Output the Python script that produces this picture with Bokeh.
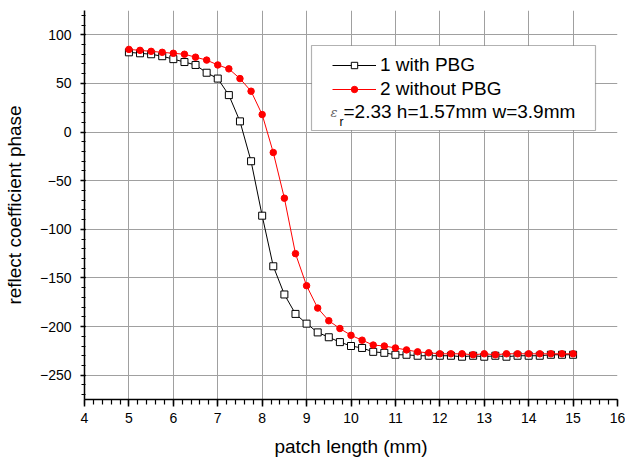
from bokeh.plotting import figure
from bokeh.models import (SingleIntervalTicker, Range1d, Legend, LegendItem,
                          BoxAnnotation, Label)
from bokeh.embed import file_html
from bokeh.resources import INLINE

# ---- data ----
patch_length = [5 + 0.25 * i for i in range(41)]
with_pbg = [82, 81, 80, 78, 75, 72, 69, 61, 55, 38, 11, -30, -86,
            -138, -167, -187, -197,
            -206, -211, -216, -220,
            -222, -226, -227, -229,
            -229, -230, -230, -230,
            -230, -231, -230, -231,
            -230, -231, -230, -230,
            -230, -229, -229, -229]
without_pbg = [85, 84, 83, 82, 81, 80, 77, 74, 69, 65, 55, 42, 18,
               -21, -68, -125, -158,
               -181, -194, -202, -209,
               -214, -219, -220, -222,
               -224, -226, -227, -228,
               -228, -228, -229, -228,
               -229, -228, -228, -228,
               -228, -228, -228, -228]
series_names = ["1 with PBG", "2 without PBG"]
note_text = "=2.33 h=1.57mm w=3.9mm"
x_title = "patch length (mm)"
y_title = "reflect coefficient phase"

FONT = "Liberation Sans"

p = figure(width=625, height=466, output_backend="svg", toolbar_location=None,
           x_range=Range1d(4, 16), y_range=Range1d(-275, 125),
           min_border_left=84, min_border_right=8, min_border_top=10,
           min_border_bottom=67)
p.outline_line_color = None
p.background_fill_color = "white"

for ax, ticker in ((p.xaxis[0], SingleIntervalTicker(interval=1, num_minor_ticks=5)),
                   (p.yaxis[0], SingleIntervalTicker(interval=50, num_minor_ticks=5))):
    ax.ticker = ticker
    ax.axis_line_color = "black"
    ax.axis_line_width = 1.5
    ax.major_tick_line_color = "black"
    ax.major_tick_line_width = 1.5
    ax.minor_tick_line_color = "black"
    ax.minor_tick_line_width = 1.2
    ax.major_label_text_font = FONT
    ax.major_label_text_font_size = "14px"
    ax.major_label_text_color = "black"
    ax.axis_label_text_font = FONT
    ax.axis_label_text_font_size = "19px"
    ax.axis_label_text_font_style = "normal"
    ax.axis_label_text_color = "black"

p.xaxis.major_tick_out = 7
p.xaxis.major_tick_in = 0
p.xaxis.minor_tick_out = 5
p.xaxis.minor_tick_in = 0
p.xaxis.major_label_standoff = 6
p.xaxis.axis_label = x_title
p.xaxis.axis_label_standoff = 10

p.yaxis.major_tick_out = 4
p.yaxis.major_tick_in = 1
p.yaxis.minor_tick_out = 3
p.yaxis.minor_tick_in = 1
p.yaxis.major_label_standoff = 9
p.yaxis.axis_label = y_title
p.yaxis.axis_label_standoff = 12

p.xgrid.ticker = p.xaxis[0].ticker
p.ygrid.ticker = p.yaxis[0].ticker
p.grid.grid_line_color = "#a0a0a0"
p.grid.grid_line_width = 1

l1 = p.line(patch_length, with_pbg, line_color="black", line_width=1)
s1 = p.scatter(patch_length, with_pbg, marker="square", size=7,
               fill_color="white", line_color="black", line_width=1)
l2 = p.line(patch_length, without_pbg, line_color="red", line_width=1)
s2 = p.scatter(patch_length, without_pbg, marker="circle", size=6.5,
               fill_color="red", line_color="red", line_width=1)

# legend frame (screen units, measured from frame bottom-left)
box = BoxAnnotation(left=227, right=511, top=354, bottom=269,
                    left_units="screen", right_units="screen",
                    top_units="screen", bottom_units="screen",
                    fill_color="white", fill_alpha=1,
                    line_color="black", line_width=1.2, level="annotation")
p.add_layout(box)

legend = Legend(items=[LegendItem(label=series_names[0], renderers=[l1, s1]),
                       LegendItem(label=series_names[1], renderers=[l2, s2])],
                location=(248, 299), margin=0, padding=0, spacing=2,
                glyph_width=44, glyph_height=16, label_height=16,
                label_standoff=4, label_text_font=FONT,
                label_text_font_size="19px", label_text_color="black",
                border_line_alpha=0, background_fill_alpha=0)
p.add_layout(legend)

# third legend line with subscript
p.add_layout(Label(x=246, y=287, x_units="screen", y_units="screen",
                   text="ε", text_font="DejaVu Serif", text_font_style="italic",
                   text_font_size="13px", text_color="#666666",
                   text_baseline="middle", text_align="left"))
p.add_layout(Label(x=255, y=278, x_units="screen", y_units="screen",
                   text="r", text_font=FONT,
                   text_font_size="12px", text_color="black",
                   text_baseline="middle", text_align="left"))
p.add_layout(Label(x=259, y=288, x_units="screen", y_units="screen",
                   text=note_text, text_font=FONT,
                   text_font_size="19px", text_color="black",
                   text_baseline="middle", text_align="left"))

open("out.html", "w").write(file_html(p, INLINE))
